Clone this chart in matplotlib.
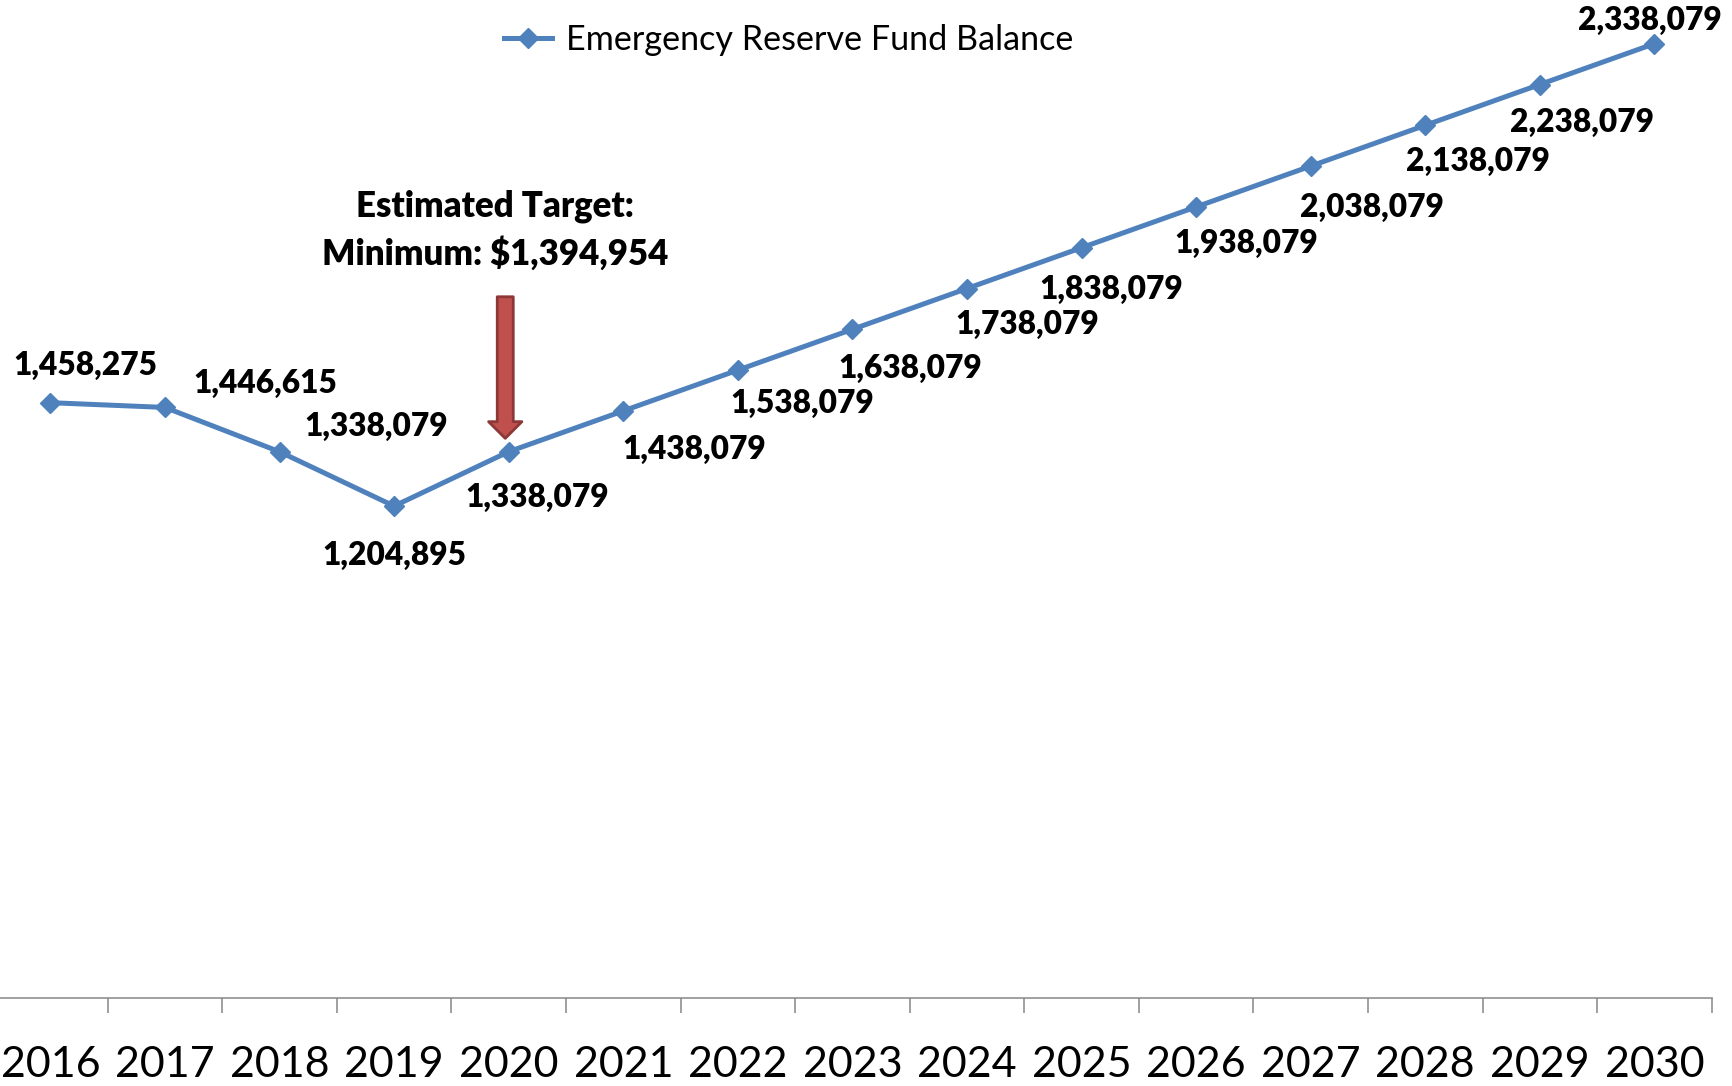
import numpy as np
import matplotlib
matplotlib.use('Agg')
import matplotlib.pyplot as plt

years = ['2016', '2017', '2018', '2019', '2020', '2021', '2022', '2023',
         '2024', '2025', '2026', '2027', '2028', '2029', '2030']
balance = [1458275, 1446615, 1338079, 1204895, 1338079, 1438079, 1538079,
           1638079, 1738079, 1838079, 1938079, 2038079, 2138079, 2238079,
           2338079]
series_name = 'Emergency Reserve Fund Balance'
target_text = 'Estimated Target:\nMinimum: $1,394,954'

# label offsets from each point, in pixels (x right, y up)
label_offsets = [(35, 37), (100, 24), (97, 25), (0, -49), (29, -46),
                 (71, -39), (64, -33), (58, -39), (60, -36), (30, -42),
                 (50, -37), (61, -41), (53, -36), (42, -38), (-5, 23)]

blue = '#4F81BD'
plt.rcParams['font.family'] = ['Lato', 'DejaVu Sans']

fig = plt.figure(figsize=(17.33, 10.86), dpi=100)
ax = fig.add_axes([-0.00398, 0.0813, 0.99169, 0.9393])

x = np.arange(len(years))
ax.plot(x, balance, color=blue, lw=3.6, marker='D', markersize=10,
        label=series_name, clip_on=False, zorder=3)

for xi, v, (dx, dy) in zip(x, balance, label_offsets):
    ax.annotate('{:,}'.format(v), xy=(xi, v), xytext=(dx, dy),
                textcoords='offset pixels', ha='center', va='center',
                fontsize=22.8, fontweight='heavy', color='black',
                annotation_clip=False)

ax.set_xlim(-0.5, len(years) - 0.5)
ax.set_ylim(0, 2500000)

for s in ['top', 'left', 'right']:
    ax.spines[s].set_visible(False)
ax.spines['bottom'].set_color('#868686')
ax.spines['bottom'].set_linewidth(1.1)
ax.set_yticks([])

# tick marks between categories, labels under the points
ax.set_xticks(np.arange(-0.5, len(years), 1))
ax.set_xticklabels([])
ax.tick_params(axis='x', which='major', length=11, width=1.1, color='#868686')
ax.set_xticks(x, minor=True)
ax.set_xticklabels(years, minor=True)
ax.tick_params(axis='x', which='minor', length=0, pad=35, labelsize=31)

# target arrow and note
ax.annotate('', xy=(3.97, 1370900), xytext=(3.97, 1717900),
            arrowprops=dict(arrowstyle='simple,head_length=0.5,head_width=1.0,tail_width=0.48',
                            mutation_scale=24, fc='#C0504D', ec='#8C3836',
                            lw=2, shrinkA=0, shrinkB=0))
ax.text(3.88, 1880200, target_text, ha='center', va='center',
        fontsize=25, fontweight='heavy', linespacing=1.45)

fig.legend(loc='center', bbox_to_anchor=(0.455, 0.963), frameon=False,
           fontsize=24.6, handlelength=1.4, handletextpad=0.4)

fig.savefig('out.png', dpi=100)
